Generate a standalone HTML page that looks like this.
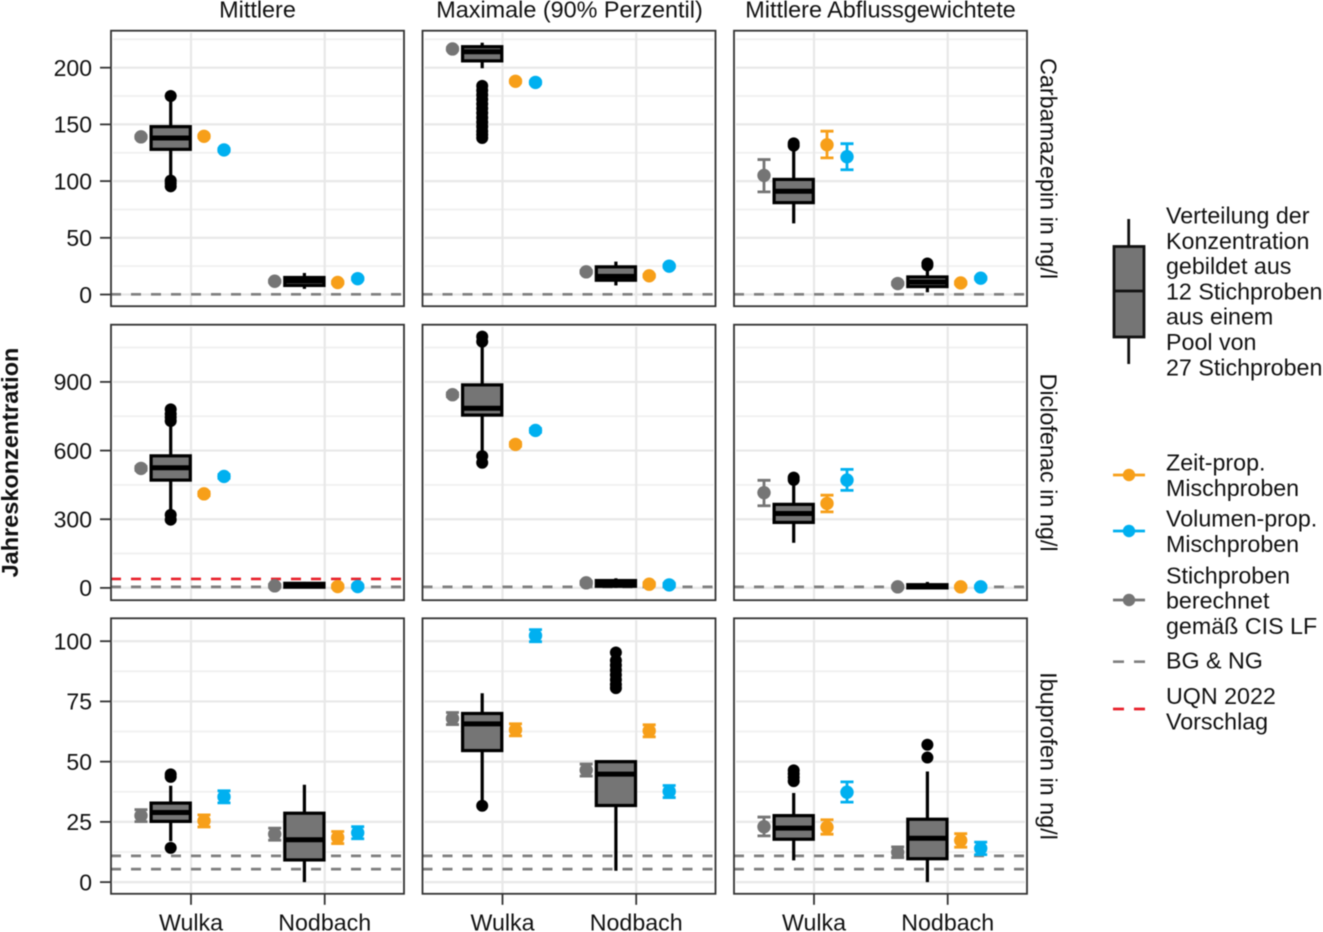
<!DOCTYPE html>
<html lang="de">
<head>
<meta charset="utf-8">
<title>Jahreskonzentration</title>
<style>
html,body{margin:0;padding:0;background:#fff;}
body{width:1323px;height:932px;overflow:hidden;}
svg{display:block;filter:blur(0.45px);font-family:"Liberation Sans",sans-serif;fill:#111;}
</style>
</head>
<body>
<svg id="chart" xmlns="http://www.w3.org/2000/svg" width="1323" height="932" viewBox="0 0 1323 932">
  <g id="panels"></g>

  <g font-size="23.4" text-anchor="middle">
    <text x="257.5" y="17.5">Mittlere</text>
    <text x="569.5" y="17.5">Maximale (90% Perzentil)</text>
    <text x="880.5" y="17.5">Mittlere Abflussgewichtete</text>
  </g>

  <g font-size="23.4" text-anchor="middle">
    <text transform="translate(1040.5,168.5) rotate(90)">Carbamazepin in ng/l</text>
    <text transform="translate(1040.5,462.5) rotate(90)">Diclofenac in ng/l</text>
    <text transform="translate(1040.5,756) rotate(90)">Ibuprofen in ng/l</text>
  </g>

  <text font-size="23.5" font-weight="bold" text-anchor="middle" transform="translate(18,462.5) rotate(-90)">Jahreskonzentration</text>

  <g font-size="23.25">
    <g>
      <line x1="1128.7" x2="1128.7" y1="219" y2="364" stroke="#111" stroke-width="2.8"/>
      <rect x="1114" y="246.5" width="30" height="90.5" fill="#757575" stroke="#111" stroke-width="2.8"/>
      <line x1="1114" x2="1144" y1="291" y2="291" stroke="#111" stroke-width="2.8"/>
      <text>
        <tspan x="1166" y="223.5">Verteilung der</tspan>
        <tspan x="1166" y="248.8">Konzentration</tspan>
        <tspan x="1166" y="274.1">gebildet aus</tspan>
        <tspan x="1166" y="299.4">12 Stichproben</tspan>
        <tspan x="1166" y="324.7">aus einem</tspan>
        <tspan x="1166" y="350">Pool von</tspan>
        <tspan x="1166" y="375.3">27 Stichproben</tspan>
      </text>
    </g>
    <g>
      <line x1="1113" x2="1145" y1="475" y2="475" stroke="#f79f19" stroke-width="2.8"/>
      <circle cx="1129" cy="475" r="6.2" fill="#f79f19"/>
      <text><tspan x="1166" y="470.7">Zeit-prop.</tspan><tspan x="1166" y="496">Mischproben</tspan></text>
    </g>
    <g>
      <line x1="1113" x2="1145" y1="531" y2="531" stroke="#00b0f0" stroke-width="2.8"/>
      <circle cx="1129" cy="531" r="6.2" fill="#00b0f0"/>
      <text><tspan x="1166" y="526.7">Volumen-prop.</tspan><tspan x="1166" y="552">Mischproben</tspan></text>
    </g>
    <g>
      <line x1="1113" x2="1145" y1="600" y2="600" stroke="#757575" stroke-width="2.8"/>
      <circle cx="1129" cy="600" r="6.2" fill="#757575"/>
      <text><tspan x="1166" y="583.3">Stichproben</tspan><tspan x="1166" y="608.6">berechnet</tspan><tspan x="1166" y="633.9">gemäß CIS LF</tspan></text>
    </g>
    <g>
      <line x1="1113" x2="1145" y1="661.7" y2="661.7" stroke="#7f7f7f" stroke-width="2.7" stroke-dasharray="11 10"/>
      <text x="1166" y="668.5">BG &amp; NG</text>
    </g>
    <g>
      <line x1="1113" x2="1145" y1="709" y2="709" stroke="#e8202a" stroke-width="2.7" stroke-dasharray="11 10"/>
      <text><tspan x="1166" y="704">UQN 2022</tspan><tspan x="1166" y="729.3">Vorschlag</tspan></text>
    </g>
  </g>
</svg>

<script>
// ---- chart data ([row][column][site]) ----
const categories = ['Wulka', 'Nodbach'];
const measures = ['mittlere', 'maximale', 'abflussgewichtete'];
const substances = ['carbamazepin', 'diclofenac', 'ibuprofen'];

const yDomainLow = [-10.3, -53.8, -4.85];
const yDomainHigh = [232.6, 1150, 109.5];
const yTickValues = [[0, 50, 100, 150, 200], [0, 300, 600, 900], [0, 25, 50, 75, 100]];
const yTickLabels = [['0', '50', '100', '150', '200'], ['0', '300', '600', '900'], ['0', '25', '50', '75', '100']];
const yMinorValues = [[25, 75, 125, 175, 225], [150, 450, 750, 1050], [12.5, 37.5, 62.5, 87.5]];

// reference lines per [row][column]
const limitBgNg = [[[0.2], [0.2], [0.2]], [[4.5], [4.5], [4.5]], [[10.9, 5.4], [10.9, 5.4], [10.9, 5.4]]];
const limitUqn = [[[], [], []], [[39], [], []], [[], [], []]];

const boxQ1 = [
  [[128, 8], [206, 12.6], [81, 7]],
  [[471, 3], [755, 7], [286, 0]],
  [[25.2, 9.2], [54.6, 31.8], [17.8, 9.7]]
];
const boxMedian = [
  [[138, 12], [214, 16], [91, 11]],
  [[525, 11], [785, 19], [325, 8]],
  [[28.9, 17.6], [65.7, 44.8], [22.4, 18.2]]
];
const boxQ3 = [
  [[148, 15], [218.5, 24.4], [101.5, 15.5]],
  [[577, 20], [887, 32], [365, 14]],
  [[32.8, 28.6], [70, 50], [27.6, 26.1]]
];
const whiskerLow = [
  [[105, 5], [199.5, 8], [62.7, 2]],
  [[325, 0], [590, 0], [197, 2]],
  [[17, 0], [34, 4.7], [9, 0]]
];
const whiskerHigh = [
  [[172, 19], [222, 29], [128, 25]],
  [[720, 26], [1060, 42], [460, 26]],
  [[40, 40.4], [78.4, 50], [37, 45.9]]
];
const outliers = [
  [[[175, 100.4, 98, 95.4], []],
   [[184, 180, 176, 172, 168, 164, 160, 156, 152, 148, 144, 141, 138], []],
   [[133.3, 131.3], [27.4, 25.7]]],
  [[[780, 760, 745, 729, 319, 298], []],
   [[1098, 1076, 576, 547], []],
   [[482, 472], []]],
  [[[44.7, 43.7, 14.2], []],
   [[31.7], [95.3, 92, 90, 88, 86, 84, 82, 80.5]],
   [[46.4, 45, 43.5, 41.9], [57, 51.7]]]
];

const grabValue = [
  [[139, 11.7], [216.5, 20], [105, 9.7]],
  [[522, 9], [844, 22], [416, 4.5]],
  [[27.6, 19.9], [67.9, 46.5], [23, 12.4]]
];
const grabLow = [
  [[138, 10.7], [215.5, 19], [90.5, 8.7]],
  [[514, 3], [836, 15], [359, 0]],
  [[25.1, 17.4], [65.4, 44], [19.2, 10.2]]
];
const grabHigh = [
  [[140, 12.7], [217.5, 21], [119, 10.7]],
  [[530, 15], [852, 29], [470, 9]],
  [[30.1, 22.4], [70.4, 49], [27, 14.6]]
];
const timeValue = [
  [[139.5, 10.6], [188, 16.5], [132, 10.2]],
  [[411, 6], [627, 16], [369, 4.5]],
  [[25.4, 18.5], [63.2, 62.8], [22.8, 17.3]]
];
const timeLow = [
  [[138.5, 9.6], [187, 15.5], [120.5, 9.2]],
  [[403, 0], [619, 9], [332, 0]],
  [[22.9, 16], [60.7, 60.3], [19.9, 14.5]]
];
const timeHigh = [
  [[140.5, 11.6], [189, 17.5], [144, 11.2]],
  [[419, 12], [635, 23], [405, 9]],
  [[27.9, 21], [65.7, 65.3], [25.9, 20.1]]
];
const volumeValue = [
  [[127.5, 14], [187, 25], [121.5, 14.4]],
  [[487, 6], [688, 13], [471, 4.5]],
  [[35.4, 20.5], [102.3, 37.6], [37.3, 14]]
];
const volumeLow = [
  [[126.5, 13], [186, 24], [110, 13.4]],
  [[479, 0], [680, 6], [426, 0]],
  [[32.9, 18], [99.8, 35.1], [33.2, 11.4]]
];
const volumeHigh = [
  [[128.5, 15], [188, 26], [133, 15.4]],
  [[495, 12], [696, 20], [518, 9]],
  [[37.9, 23], [104.8, 40.1], [41.6, 16.6]]
];

// ---- layout ----
const PANEL_LEFT = [111, 422.5, 734];
const PANEL_TOP = [30.7, 324.7, 618.3];
const PANEL_W = 293;
const PANEL_H = 275.5;
const SITE_STEP = 133.7;
const SITE_START = 80;
const OFFSET_GRAB = -50, OFFSET_BOX = -20.3, OFFSET_TIME = 13, OFFSET_VOLUME = 33;
const SVG_NS = 'http://www.w3.org/2000/svg';

function make(parent, tag, attrs) {
  const el = document.createElementNS(SVG_NS, tag);
  for (const k in attrs) el.setAttribute(k, attrs[k]);
  parent.appendChild(el);
  return el;
}
function yScale(row, v) {
  const t = (v - yDomainLow[row]) / (yDomainHigh[row] - yDomainLow[row]);
  return PANEL_TOP[row] + PANEL_H * (1 - t);
}
function xScale(col, site) {
  return PANEL_LEFT[col] + SITE_START + site * SITE_STEP;
}

function drawPointSeries(g, row, col, site, values, lows, highs, offset, color, name) {
  const cx = xScale(col, site) + offset;
  const y = yScale(row, values[row][col][site]);
  const yLo = yScale(row, lows[row][col][site]);
  const yHi = yScale(row, highs[row][col][site]);
  const bar = make(g, 'path', {
    d: 'M' + (cx - 6.5) + ' ' + yHi + 'H' + (cx + 6.5) + 'M' + cx + ' ' + yHi + 'V' + yLo + 'M' + (cx - 6.5) + ' ' + yLo + 'H' + (cx + 6.5),
    fill: 'none', stroke: color, 'stroke-width': 2.8
  });
  
  
  const pt = make(g, 'circle', { cx: cx, cy: y, r: 6.7, fill: color });
  
  
}

function drawBox(g, row, col, site) {
  const cx = xScale(col, site) + OFFSET_BOX;
  outliers[row][col][site].forEach(function (v) {
    const o = make(g, 'circle', { cx: cx, cy: yScale(row, v), r: 6, fill: '#000' });
    
    
  });
  const w = make(g, 'line', {
    x1: cx, x2: cx, y1: yScale(row, whiskerLow[row][col][site]), y2: yScale(row, whiskerHigh[row][col][site]),
    stroke: '#000', 'stroke-width': 3.2
  });
  
  
  const top = yScale(row, boxQ3[row][col][site]);
  const bottom = yScale(row, boxQ1[row][col][site]);
  const r = make(g, 'rect', {
    x: cx - 19.6, y: top, width: 39.2, height: bottom - top,
    fill: '#757575', stroke: '#000', 'stroke-width': 3.2
  });
  
  
  const m = make(g, 'line', {
    x1: cx - 19.6, x2: cx + 19.6,
    y1: yScale(row, boxMedian[row][col][site]), y2: yScale(row, boxMedian[row][col][site]),
    stroke: '#000', 'stroke-width': 5
  });
  
  
}

const root = document.getElementById('panels');
substances.forEach(function (substance, row) {
  measures.forEach(function (measure, col) {
    const left = PANEL_LEFT[col], top = PANEL_TOP[row];
    const panel = make(root, 'g', {});
    
    

    yMinorValues[row].forEach(function (v) {
      const l = make(panel, 'line', { x1: left + 2, x2: left + PANEL_W - 2, y1: yScale(row, v), y2: yScale(row, v), stroke: '#f0f0f0', 'stroke-width': 1.8 });
      
      
    });
    yTickValues[row].forEach(function (v) {
      const l = make(panel, 'line', { x1: left + 2, x2: left + PANEL_W - 2, y1: yScale(row, v), y2: yScale(row, v), stroke: '#e8e8e8', 'stroke-width': 2.2 });
      
      
    });
    categories.forEach(function (c, site) {
      const l = make(panel, 'line', { x1: xScale(col, site), x2: xScale(col, site), y1: top + 2, y2: top + PANEL_H, stroke: '#e8e8e8', 'stroke-width': 2.2 });
      
      
    });

    limitBgNg[row][col].forEach(function (v) {
      const l = make(panel, 'line', { x1: left, x2: left + PANEL_W, y1: yScale(row, v), y2: yScale(row, v), stroke: '#7f7f7f', 'stroke-width': 2.7, 'stroke-dasharray': '10 10' });
      
      
    });
    limitUqn[row][col].forEach(function (v) {
      const l = make(panel, 'line', { x1: left, x2: left + PANEL_W, y1: yScale(row, v), y2: yScale(row, v), stroke: '#e8202a', 'stroke-width': 2.7, 'stroke-dasharray': '10 10' });
      
      
    });

    categories.forEach(function (c, site) {
      const g = make(panel, 'g', {});
      
      
      drawBox(g, row, col, site);
      drawPointSeries(g, row, col, site, grabValue, grabLow, grabHigh, OFFSET_GRAB, '#757575', 'stichproben');
      drawPointSeries(g, row, col, site, timeValue, timeLow, timeHigh, OFFSET_TIME, '#f79f19', 'zeit-prop');
      drawPointSeries(g, row, col, site, volumeValue, volumeLow, volumeHigh, OFFSET_VOLUME, '#00b0f0', 'volumen-prop');
    });

    const border = make(panel, 'rect', { x: left, y: top, width: PANEL_W, height: PANEL_H, fill: 'none', stroke: '#333', 'stroke-width': 1.8 });
    
    

    if (col === 0) {
      yTickValues[row].forEach(function (v, i) {
        const t = make(panel, 'line', { x1: left - 11, x2: left, y1: yScale(row, v), y2: yScale(row, v), stroke: '#333', 'stroke-width': 1.8 });
        
        
        const lab = make(panel, 'text', { x: left - 19, y: yScale(row, v) + 8.3, 'font-size': 23, 'text-anchor': 'end' });
        
        
        lab.textContent = yTickLabels[row][i];
      });
    }
    if (row === substances.length - 1) {
      categories.forEach(function (c, site) {
        const t = make(panel, 'line', { x1: xScale(col, site), x2: xScale(col, site), y1: top + PANEL_H, y2: top + PANEL_H + 11, stroke: '#333', 'stroke-width': 1.8 });
        
        
        const lab = make(panel, 'text', { x: xScale(col, site), y: 930.7, 'font-size': 23.2, 'text-anchor': 'middle' });
        
        
        lab.textContent = c;
      });
    }
  });
});
</script>
</body>
</html>
